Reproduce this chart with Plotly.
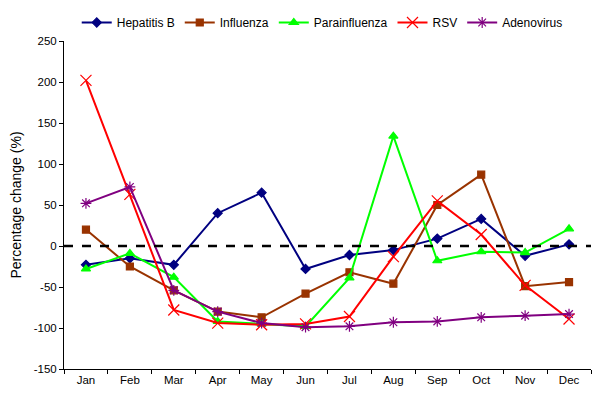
import plotly.graph_objects as go

months = ["Jan", "Feb", "Mar", "Apr", "May", "Jun", "Jul", "Aug", "Sep", "Oct", "Nov", "Dec"]

hepatitis_b = [-23, -15, -23, 40, 65, -28, -11, -5, 9, 33, -12, 2]
influenza = [20, -25, -54, -80, -87, -58, -32, -46, 50, 87, -49, -44]
parainfluenza = [-28, -9, -38, -92, -95, -98, -39, 134, -18, -7, -8, 21]
rsv = [202, 63, -78, -94, -96, -95, -86, -13, 55, 14, -48, -89]
adenovirus = [52, 72, -54, -80, -94, -99, -98, -93, -92, -87, -85, -83]

y_ticks = [-150, -100, -50, 0, 50, 100, 150, 200, 250]
y_labels = ["-150", "-100", "-50", "0", "50", "100", "150", "200", "250"]

series = [
    ("Hepatitis B", hepatitis_b, "#000080", "diamond", 7),
    ("Influenza", influenza, "#993300", "square", 7),
    ("Parainfluenza", parainfluenza, "#00FF00", "triangle-up", 8),
    ("RSV", rsv, "#FF0000", "x-thin-open", 11),
    ("Adenovirus", adenovirus, "#800080", "asterisk-open", 9),
]

fig = go.Figure()
for name, vals, color, symbol, size in series:
    fig.add_trace(go.Scatter(
        x=months, y=vals, name=name, mode="lines+markers",
        line=dict(color=color, width=2),
        marker=dict(symbol=symbol, size=size, color=color,
                    line=dict(color=color, width=1.2)),
    ))

# dashed zero line
fig.add_shape(type="line", xref="paper", yref="y", x0=0, x1=1, y0=0, y1=0,
              line=dict(color="black", width=2.5, dash="dash"))

# page body has an 8px margin, so the figure is a bit smaller than the window
fig.update_layout(
    width=592, height=392,
    paper_bgcolor="white", plot_bgcolor="white",
    margin=dict(l=56, r=9, t=33, b=31, autoexpand=False),
    font=dict(family="Liberation Sans, Arial, sans-serif", size=12, color="black"),
    legend=dict(orientation="h", x=0.49, xanchor="center",
                yref="container", y=1.0, yanchor="top",
                font=dict(size=12), itemwidth=30, tracegroupgap=0),
    xaxis=dict(showline=True, linecolor="black", linewidth=1, ticks="outside",
               tickson="boundaries", ticklen=4, tickcolor="black",
               tickfont=dict(size=11.5),
               showgrid=False, zeroline=False, range=[-0.5, 11.5]),
    yaxis=dict(range=[-150, 250], tickvals=y_ticks, ticktext=y_labels,
               showline=True, linecolor="black", tickfont=dict(size=11.5),
               linewidth=1, ticks="outside", ticklen=4, tickcolor="black",
               showgrid=False, zeroline=False,
               title=dict(text="Percentage change (%)", font=dict(size=14), standoff=8)),
)

fig.write_html("out.html")
